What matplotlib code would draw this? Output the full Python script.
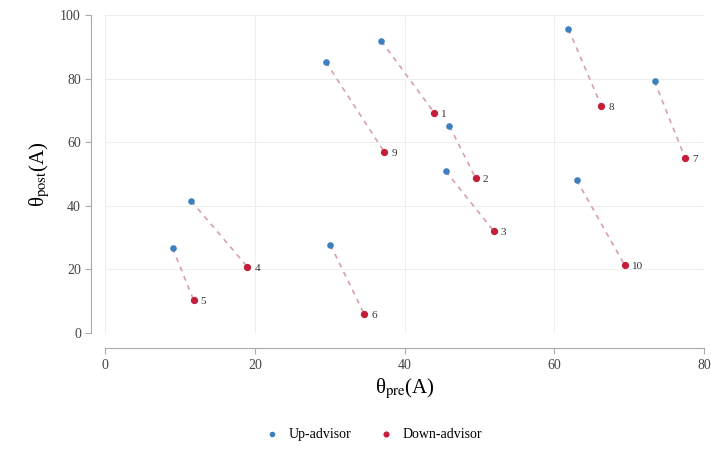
import matplotlib.pyplot as plt

plt.rcParams['font.family'] = ['Liberation Serif', 'DejaVu Serif']
plt.rcParams['mathtext.fontset'] = 'stix'

# up-advisor (start) and down-advisor (end) positions, one pair per case
up_x = [36.9, 46.0, 45.5, 11.5, 9.0, 30.1, 73.4, 61.9, 29.5, 63.0]
up_y = [91.8, 65.1, 50.9, 41.5, 26.7, 27.7, 79.2, 95.6, 85.2, 48.1]
down_x = [44.0, 49.5, 51.9, 19.0, 11.8, 34.6, 77.5, 66.3, 37.3, 69.4]
down_y = [69.2, 48.7, 32.1, 20.8, 10.4, 6.0, 55.0, 71.4, 56.9, 21.4]
labels = ['1', '2', '3', '4', '5', '6', '7', '8', '9', '10']

fig = plt.figure(figsize=(7.11, 4.58), dpi=100)
ax = fig.add_axes([0.148, 0.273, 0.842, 0.694])

for i in range(len(labels)):
    ax.plot([up_x[i], down_x[i]], [up_y[i], down_y[i]], ls=(0, (3, 3)),
            color='#d9a0a8', lw=1.2, zorder=1)

ax.scatter(up_x, up_y, s=14, color='#3d7fc1', label='Up-advisor', zorder=3)
ax.scatter(down_x, down_y, s=18, color='#c41e3a', label='Down-advisor', zorder=3)

for i, lab in enumerate(labels):
    ax.annotate(lab, (down_x[i], down_y[i]), xytext=(5, -3),
                textcoords='offset points', fontsize=8, color='#333333')

ax.set_xlim(0, 80)
ax.set_ylim(0, 100)
ax.set_xticks([0, 20, 40, 60, 80])
ax.set_yticks([0, 20, 40, 60, 80, 100])
ax.grid(True, color='#eeeeee', lw=0.8)
ax.set_axisbelow(True)

for s in ['top', 'right']:
    ax.spines[s].set_visible(False)
ax.spines['left'].set_position(('outward', 10))
ax.spines['bottom'].set_position(('outward', 11))
for s in ['left', 'bottom']:
    ax.spines[s].set_color('#aaaaaa')
ax.tick_params(colors='#444444', labelsize=10, length=4, color='#aaaaaa')

ax.set_xlabel('θ$_{\\mathrm{pre}}$(A)', fontsize=15, labelpad=4)
ax.set_ylabel('θ$_{\\mathrm{post}}$(A)', fontsize=15, labelpad=6)

ax.legend(loc='upper center', bbox_to_anchor=(0.442, -0.26), ncol=2,
          frameon=False, fontsize=10, handletextpad=0.2, columnspacing=1.5,
          markerscale=0.8)

fig.savefig('out.png', dpi=100)
